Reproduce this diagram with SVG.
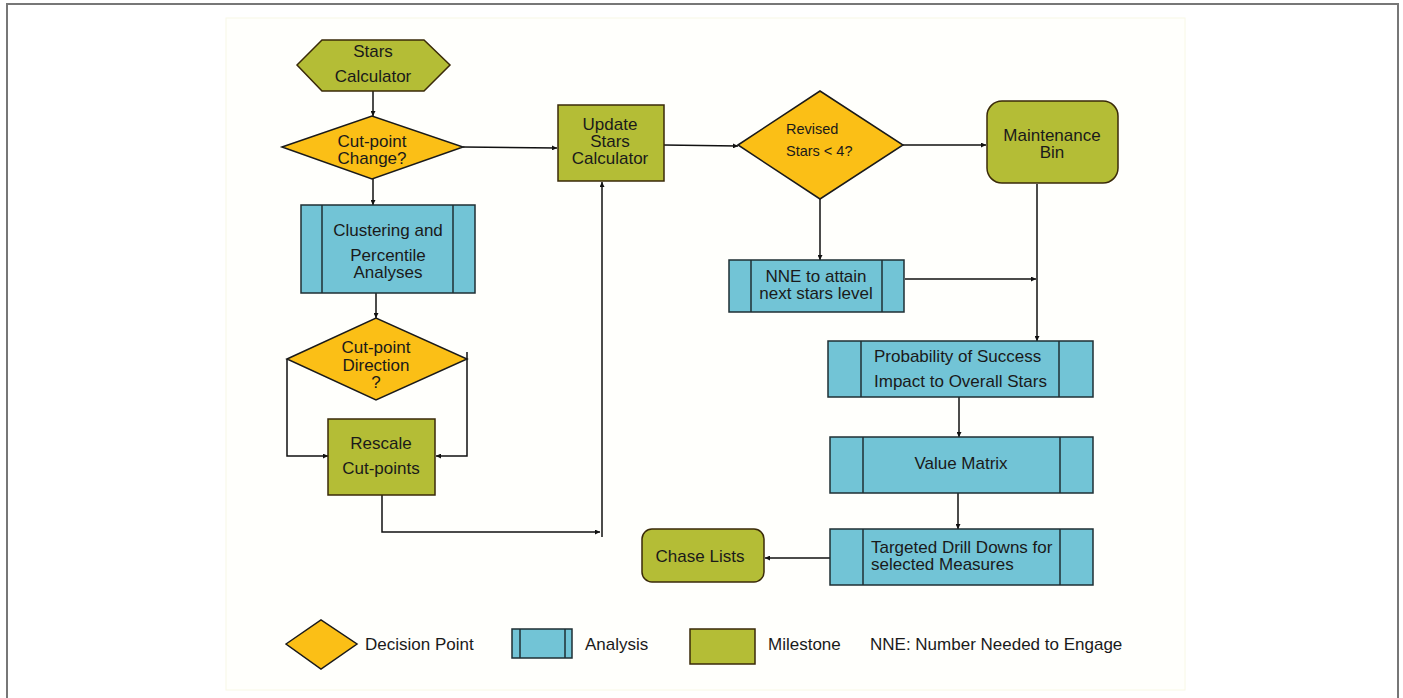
<svg xmlns="http://www.w3.org/2000/svg" width="1403" height="698" viewBox="0 0 1403 698">
<defs>
<style>
.t{font-family:"Liberation Sans",Arial,sans-serif;font-size:17px;fill:#1a1a1a}
.s{font-size:14.5px}
.m{text-anchor:middle}
.dec{fill:#FBBF16;stroke:#1a1a1a;stroke-width:1.5}
.ana{fill:#72C4D6;stroke:#1f2f33;stroke-width:1.5}
.mil{fill:#B4BD36;stroke:#3a2a08;stroke-width:1.5}
.ln{fill:none;stroke:#111;stroke-width:1.5}
.ar{fill:none;stroke:#111;stroke-width:1.5;marker-end:url(#ah)}
</style>
<marker id="ah" viewBox="0 0 10 10" refX="10" refY="5" markerWidth="5" markerHeight="5" orient="auto" markerUnits="userSpaceOnUse">
<path d="M0,0 L10,5 L0,10 z" fill="#111"/>
</marker>
</defs>
<rect x="0" y="0" width="1403" height="698" fill="#fff"/>
<rect x="7" y="4" width="1391" height="710" fill="none" stroke="#777" stroke-width="2"/>
<rect x="226" y="18" width="959" height="672" fill="#fffffc" stroke="#f8f8e6" stroke-width="1"/>

<g id="connectors">
<path class="ar" d="M373,91 V116"/>
<path class="ar" d="M463,147 L557,148"/>
<path class="ar" d="M373,179 V205"/>
<path class="ar" d="M376,293 V318"/>
<path class="ar" d="M287,359 V456 H328"/>
<path class="ar" d="M467,352 V456 H436"/>
<path class="ar" d="M382,495 V532 H600"/>
<path class="ar" d="M602,537 V182"/>
<path class="ar" d="M664,145 L738,146"/>
<path class="ar" d="M903,145 H986"/>
<path class="ar" d="M820,199 V260"/>
<path class="ln" d="M1037,184 V330"/>
<path class="ar" d="M1037,330 V341"/>
<path class="ar" d="M905,279 L1036,279"/>
<path class="ar" d="M959,397 V437"/>
<path class="ar" d="M958,493 V529"/>
<path class="ar" d="M830,558 H765"/>
</g>

<g id="stars-calculator">
<polygon class="mil" points="297,65 322,40 424,40 450,65 424,91 322,91"/>
<text class="t m" x="373" y="57">Stars</text>
<text class="t m" x="373" y="82">Calculator</text>
</g>

<g id="cutpoint-change">
<polygon class="dec" points="282,147 372,116 463,147 372,179"/>
<text class="t m" x="372" y="147">Cut-point</text>
<text class="t m" x="372" y="164">Change?</text>
</g>

<g id="clustering">
<rect class="ana" x="301" y="205" width="174" height="88"/>
<line class="ana" x1="322" y1="205" x2="322" y2="293"/>
<line class="ana" x1="453" y1="205" x2="453" y2="293"/>
<text class="t m" x="388" y="236">Clustering and</text>
<text class="t m" x="388" y="261">Percentile</text>
<text class="t m" x="388" y="278">Analyses</text>
</g>

<g id="cutpoint-direction">
<polygon class="dec" points="287,359 376,318 467,359 376,400"/>
<text class="t m" x="376" y="353">Cut-point</text>
<text class="t m" x="376" y="371">Direction</text>
<text class="t m" x="376" y="388">?</text>
</g>

<g id="rescale">
<rect class="mil" x="328" y="419" width="107" height="76"/>
<text class="t m" x="381" y="449">Rescale</text>
<text class="t m" x="381" y="474">Cut-points</text>
</g>

<g id="update-stars">
<rect class="mil" x="558" y="105" width="106" height="76"/>
<text class="t m" x="610" y="130">Update</text>
<text class="t m" x="610" y="147">Stars</text>
<text class="t m" x="610" y="164">Calculator</text>
</g>

<g id="revised-stars">
<polygon class="dec" points="738,145 820,91 903,145 820,199"/>
<text class="t s" x="786" y="134">Revised</text>
<text class="t s" x="786" y="156">Stars &lt; 4?</text>
</g>

<g id="maintenance-bin">
<rect class="mil" x="987" y="101" width="131" height="82" rx="15" ry="15"/>
<text class="t m" x="1052" y="141">Maintenance</text>
<text class="t m" x="1052" y="158">Bin</text>
</g>

<g id="nne">
<rect class="ana" x="729" y="260" width="175" height="52"/>
<line class="ana" x1="751" y1="260" x2="751" y2="312"/>
<line class="ana" x1="882" y1="260" x2="882" y2="312"/>
<text class="t m" x="816" y="282">NNE to attain</text>
<text class="t m" x="816" y="299">next stars level</text>
</g>

<g id="probability">
<rect class="ana" x="828" y="341" width="265" height="56"/>
<line class="ana" x1="861" y1="341" x2="861" y2="397"/>
<line class="ana" x1="1059" y1="341" x2="1059" y2="397"/>
<text class="t" x="874" y="362">Probability of Success</text>
<text class="t" x="874" y="387">Impact to Overall Stars</text>
</g>

<g id="value-matrix">
<rect class="ana" x="830" y="437" width="263" height="56"/>
<line class="ana" x1="863" y1="437" x2="863" y2="493"/>
<line class="ana" x1="1060" y1="437" x2="1060" y2="493"/>
<text class="t m" x="961" y="469">Value Matrix</text>
</g>

<g id="targeted">
<rect class="ana" x="830" y="529" width="263" height="56"/>
<line class="ana" x1="863" y1="529" x2="863" y2="585"/>
<line class="ana" x1="1060" y1="529" x2="1060" y2="585"/>
<text class="t" x="871" y="553">Targeted Drill Downs for</text>
<text class="t" x="871" y="570">selected Measures</text>
</g>

<g id="chase-lists">
<rect class="mil" x="642" y="529" width="122" height="53" rx="10" ry="10"/>
<text class="t m" x="700" y="562">Chase Lists</text>
</g>

<g id="legend">
<polygon class="dec" points="286,644 321,620 357,644 321,669"/>
<text class="t" x="365" y="650">Decision Point</text>
<rect class="ana" x="512" y="629" width="60" height="29"/>
<line class="ana" x1="520" y1="629" x2="520" y2="658"/>
<line class="ana" x1="565" y1="629" x2="565" y2="658"/>
<text class="t" x="585" y="650">Analysis</text>
<rect class="mil" x="690" y="629" width="65" height="35"/>
<text class="t" x="768" y="650">Milestone</text>
<text class="t" x="870" y="650">NNE: Number Needed to Engage</text>
</g>
</svg>
